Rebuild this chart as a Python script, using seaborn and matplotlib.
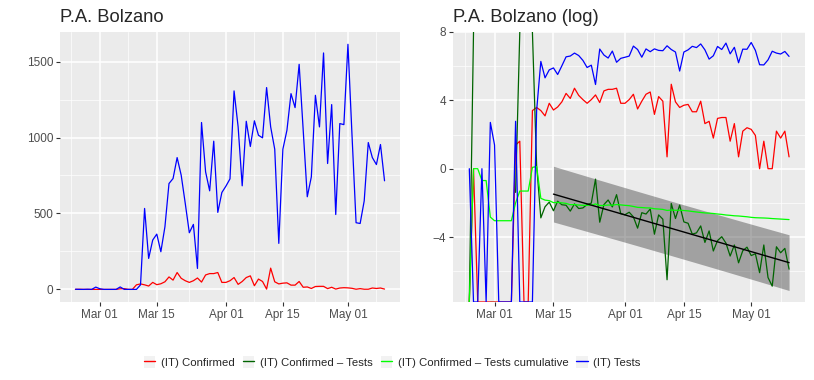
import numpy as np
import pandas as pd
import seaborn as sns
import matplotlib.pyplot as plt
import matplotlib.dates as mdates
from matplotlib.lines import Line2D
from matplotlib.patches import Patch
from matplotlib.legend_handler import HandlerTuple

# Daily data, P.A. Bolzano, 24 Feb - 10 May 2020
dates = pd.date_range('2020-02-24', '2020-05-10', freq='D')
tests = [1, 0, 0, 1, 0, 15, 4, 0, 0, 0, 0, 16, 0, 0, 0, 0, 30, 533, 204, 325,
         364, 248, 412, 697, 730, 868, 752, 566, 373, 428, 138, 1099, 774, 649, 976, 507,
         638, 680, 728, 1307, 1070, 682, 1107, 941, 1110, 1015, 998, 1329, 1070, 923,
         303, 923, 1048, 1289, 1197, 1482, 1048, 610, 741, 1278, 1070, 1557, 829, 1217,
         493, 1092, 1085, 1614, 1015, 439, 434, 583, 967, 868, 822, 954, 715]
confirmed = [0, 1, 0, 0, 0, 0, 0, 0, 0, 0, 0, 4, 5, 0, 0, 30, 36, 30, 22, 46,
             31, 37, 50, 82, 61, 111, 73, 57, 46, 57, 75, 48, 95, 104, 104, 111,
             46, 46, 57, 78, 33, 52, 78, 89, 24, 68, 52, 2, 140, 50,
             36, 41, 43, 28, 28, 52, 14, 16, 6, 19, 20, 20, 5, 14,
             2, 9, 11, 10, 7, 1, 5, 1, 1, 9, 6, 9, 2]

names = ['(IT) Confirmed', '(IT) Confirmed – Tests',
         '(IT) Confirmed – Tests cumulative', '(IT) Tests']
colors = ['#FF0000', '#006400', '#00FF00', '#0000FF']
fit_start = '2020-03-15'

sns.set_theme(style='darkgrid')
plt.rcParams['font.family'] = ['Liberation Sans', 'DejaVu Sans']
plt.rcParams['axes.unicode_minus'] = True

conf = np.array(confirmed, dtype=float)
tst = np.array(tests, dtype=float)
with np.errstate(divide='ignore', invalid='ignore'):
    log_vals = [np.log(conf),
                np.log(conf / tst),
                np.log(np.cumsum(conf) / np.cumsum(tst)),
                np.log(tst)]

ylo, yhi = -7.8, 8

# long table, with a segment id so NaN gaps stay as breaks
frames = []
for name, v in zip(names, log_vals):
    v = np.clip(v, ylo, yhi)
    seg = np.cumsum(np.isnan(v))
    frames.append(pd.DataFrame({'date': dates, 'value': v, 'series': name,
                                'seg': [f'{name}_{s}' for s in seg]}))
log_df = pd.concat(frames).dropna()

lin_df = pd.concat([
    pd.DataFrame({'date': dates, 'value': confirmed, 'series': names[0]}),
    pd.DataFrame({'date': dates, 'value': tests, 'series': names[3]}),
])

fig = plt.figure(figsize=(8.14, 3.80), dpi=100)
ax1 = fig.add_axes([0.0737, 0.2053, 0.4177, 0.7105])
ax2 = fig.add_axes([0.5569, 0.2053, 0.4321, 0.7105])

palette = dict(zip(names, colors))
sns.lineplot(data=lin_df, x='date', y='value', hue='series', palette=palette,
             estimator=None, legend=False, lw=0.9, ax=ax1)
sns.lineplot(data=log_df, x='date', y='value', hue='series', units='seg',
             palette=palette, estimator=None, legend=False, lw=0.9, ax=ax2, zorder=3)

# linear fit with prediction band on log(Confirmed/Tests) from Mar 15
mask = dates >= pd.Timestamp(fit_start)
xd = np.arange(len(dates))[mask].astype(float)
yd = log_vals[1][mask]
b, a = np.polyfit(xd, yd, 1)
pred = a + b * xd
n = len(xd)
s = np.sqrt(np.sum((yd - pred) ** 2) / (n - 2))
se = s * np.sqrt(1 + 1 / n + (xd - xd.mean()) ** 2 / np.sum((xd - xd.mean()) ** 2))
tval = 2.004
ax2.fill_between(dates[mask], pred - tval * se, pred + tval * se,
                 color='#333333', alpha=0.4, lw=0, zorder=2)
ax2.plot(dates[mask], pred, color='black', lw=1.0, zorder=4)

span = dates[-1] - dates[0]
xlim = (dates[0] - span * 0.05, dates[-1] + span * 0.05)
major = pd.to_datetime(['2020-03-01', '2020-03-15', '2020-04-01', '2020-04-15', '2020-05-01'])
minor = pd.to_datetime(['2020-02-23', '2020-03-08', '2020-03-23', '2020-04-08',
                        '2020-04-23', '2020-05-08'])

for ax in (ax1, ax2):
    ax.set_facecolor('#EBEBEB')
    ax.set_xlim(xlim)
    ax.set_xticks(major)
    ax.set_xticks(minor, minor=True)
    ax.xaxis.set_major_formatter(mdates.DateFormatter('%b %d'))
    ax.grid(which='major', color='white', lw=1.1)
    ax.grid(which='minor', color='white', lw=0.5)
    ax.set_xlabel('')
    ax.set_ylabel('')
    for sp in ax.spines.values():
        sp.set_visible(False)
    ax.tick_params(which='major', length=3, width=0.8, color='#333333',
                   labelcolor='#4D4D4D', labelsize=8.5, pad=2,
                   bottom=True, left=True)
    ax.tick_params(which='minor', length=0)

ax1.set_ylim(-83, 1695)
ax1.set_yticks([0, 500, 1000, 1500])
ax1.set_yticks([250, 750, 1250], minor=True)
ax2.set_ylim(ylo, yhi)
ax2.set_yticks([-4, 0, 4, 8])
ax2.set_yticks([-6, -2, 2, 6], minor=True)

ax1.set_title('P.A. Bolzano', loc='left', fontsize=13.2, pad=7)
ax2.set_title('P.A. Bolzano (log)', loc='left', fontsize=13.2, pad=7)

handles = [(Patch(facecolor='#F2F2F2', edgecolor='none'), Line2D([], [], color=c, lw=1.0))
           for c in colors]
fig.legend(handles, names, loc='center', bbox_to_anchor=(0.482, 0.047), ncol=4,
           frameon=False, fontsize=8.2, handlelength=1.0, handleheight=1.2,
           handletextpad=0.5, columnspacing=0.7,
           handler_map={tuple: HandlerTuple(ndivide=1)})

fig.savefig('out.png', dpi=100)
